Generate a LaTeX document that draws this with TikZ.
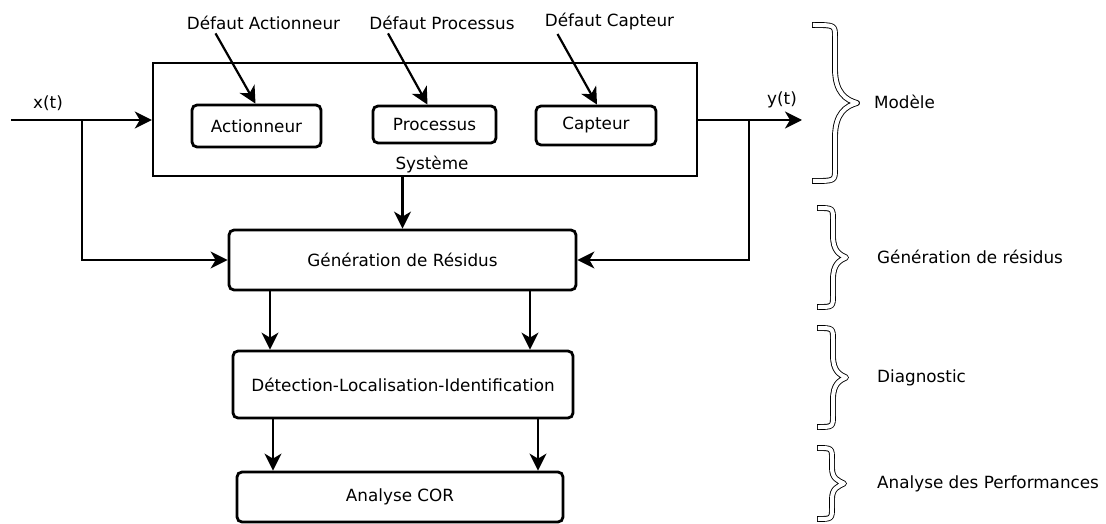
\documentclass[tikz,border=0pt]{standalone}
\usepackage{fontspec}
\setmainfont{DejaVu Sans}
\usetikzlibrary{arrows.meta}
\tikzset{
  bloc/.style={draw,line width=2.8pt,rounded corners=5pt,inner sep=0pt},
  fleche/.style={line width=2.2pt,-{Stealth[length=17pt,width=17pt,inset=5pt]}},
  accol/.style={white,line width=4pt,line join=round,shorten <=0.9pt,shorten >=0.9pt,
    preaction={draw=black,line width=5.8pt,line join=round,shorten <=0pt,shorten >=0pt}},
  lbl/.style={anchor=west,inner sep=0pt}
}
% accolade : bord gauche, axe, pointe, haut, bas
\newcommand{\accolade}[5]{%
  \def\mil{(#4+#5)/2}\def\ecart{(#5-#4)*0.22}
  \draw[accol] (#1,#4) .. controls (#2,#4) .. (#2,{#4+12})
    -- (#2,{\mil-\ecart}) .. controls (#2,{\mil-0.3*\ecart}) and ({(#2+#3)/2},{\mil-3}) .. (#3,{\mil})
    .. controls ({(#2+#3)/2},{\mil+3}) and (#2,{\mil+0.3*\ecart}) .. (#2,{\mil+\ecart})
    -- (#2,{#5-12}) .. controls (#2,#5) .. (#1,#5);}

\begin{document}
\begin{tikzpicture}[x=1pt,y=-1pt,font=\fontsize{16.8}{19}\selectfont]
    \useasboundingbox (0,0) rectangle (1106,524);
    \fill[white] (0,0) rectangle (1106,524);
    % systeme et ses blocs
    \node[draw,line width=2.4pt,minimum width=544,minimum height=113,inner sep=0pt] (sys) at (425,119.5) {};
    \node[bloc,minimum width=129,minimum height=42] (act)  at (256.5,126) {Actionneur};
    \node[bloc,minimum width=123,minimum height=37] (proc) at (434.5,124.5) {Processus};
    \node[bloc,minimum width=120,minimum height=39] (capt) at (596,125.5) {Capteur};
    \node (sysl) at (432,165) {Système};
    \node (dact)  at (263.5,23) {Défaut Actionneur};
    \node (dproc) at (442,23)   {Défaut Processus};
    \node (dcapt) at (609.5,22) {Défaut Capteur};
    \draw[fleche] ([xshift=-48pt]dact.south)  -- ([xshift=-1pt]act.north);
    \draw[fleche] ([xshift=-54pt]dproc.south) -- ([xshift=-7pt]proc.north);
    \draw[fleche] ([xshift=-52pt]dcapt.south) -- ([xshift=1pt]capt.north);
    % chaine de diagnostic
    \node[bloc,minimum width=347,minimum height=60] (gen) at (402.5,260) {Génération de Résidus};
    \node[bloc,minimum width=340,minimum height=67] (det) at (403,384.5) {Détection-Localisation-Identification};
    \node[bloc,minimum width=326,minimum height=50] (cor) at (400,497) {Analyse COR};
    % entree / sortie
    \coordinate (xin)  at (11,120);
    \coordinate (xbr)  at (82,120);
    \coordinate (ybr)  at (749,120);
    \coordinate (yout) at (802,120);
    \node (xlbl) at (48,103) {x(t)};
    \node (ylbl) at (782,100) {y(t)};
    \draw[fleche] (xin) -- (xin -| sys.west);
    \draw[fleche] (xbr) |- (gen.west);
    \draw[fleche] (sys.east |- yout) -- (yout);
    \draw[fleche] (ybr) |- (gen.east);
    \draw[fleche] (sys.south -| gen.north) -- (gen.north);
    \foreach \x in {270,530} \draw[fleche] (gen.south -| \x,0) -- (det.north -| \x,0);
    \foreach \x in {273,538} \draw[fleche] (det.south -| \x,0) -- (cor.north -| \x,0);
    % accolades
    \accolade{812}{835}{857}{25}{181}
    \accolade{817}{833}{846}{208}{307}
    \accolade{817}{833}{846}{328}{427}
    \accolade{817}{832}{844}{448}{519}
    \node[lbl] (tmod)  at (874,102) {Modèle};
    \node[lbl] (tgen)  at (877,257) {Génération de résidus};
    \node[lbl] (tdiag) at (877,378) {Diagnostic};
    \node[lbl] (tperf) at (877,484) {Analyse des Performances};
\end{tikzpicture}
\end{document}
